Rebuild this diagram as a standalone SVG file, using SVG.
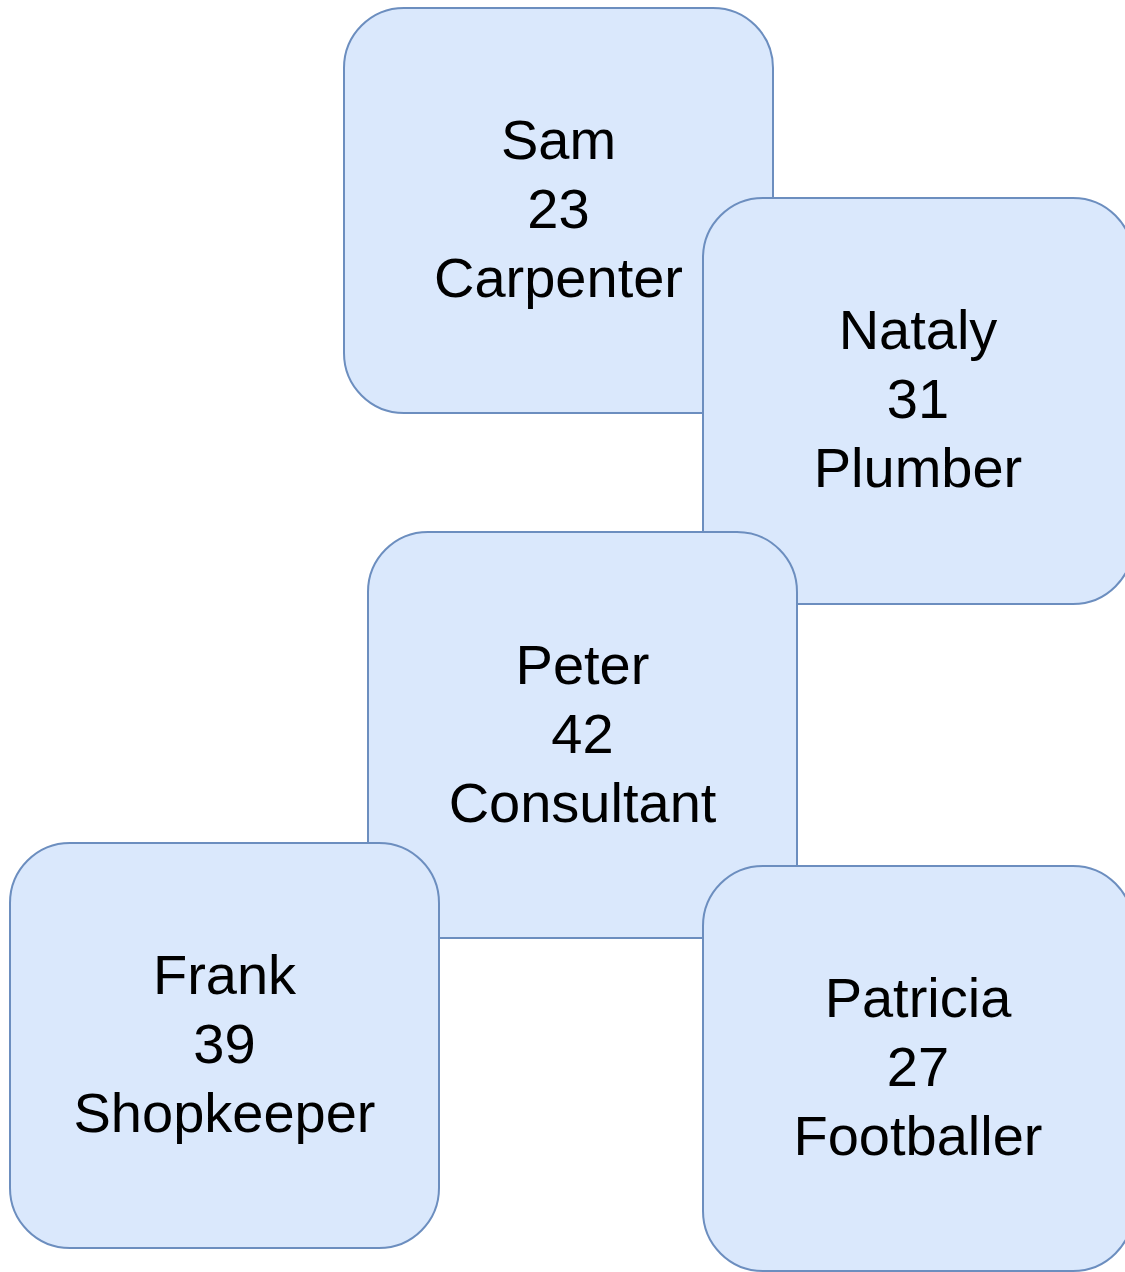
<svg xmlns="http://www.w3.org/2000/svg" width="1125" height="1272" viewBox="0 0 1125 1272">
<style>
.box{fill:#dae8fc;stroke:#6c8ebf;stroke-width:2}
.t{font-family:"Liberation Sans",Arial,sans-serif;font-size:56px;fill:#000;text-anchor:middle}
</style>
<rect width="1125" height="1272" fill="#ffffff"/>
<g id="connectors"/>
<g id="sam">
<rect class="box" x="344" y="8" width="429" height="405" rx="60" ry="60"/>
<text class="t" x="558.5" y="159">Sam</text>
<text class="t" x="558.5" y="228">23</text>
<text class="t" x="558.5" y="297">Carpenter</text>
</g>
<g id="nataly">
<rect class="box" x="703" y="198" width="430" height="406" rx="60" ry="60"/>
<text class="t" x="918" y="349">Nataly</text>
<text class="t" x="918" y="418">31</text>
<text class="t" x="918" y="487">Plumber</text>
</g>
<g id="peter">
<rect class="box" x="368" y="532" width="429" height="406" rx="60" ry="60"/>
<text class="t" x="582.5" y="684">Peter</text>
<text class="t" x="582.5" y="753">42</text>
<text class="t" x="582.5" y="822">Consultant</text>
</g>
<g id="frank">
<rect class="box" x="10" y="843" width="429" height="405" rx="60" ry="60"/>
<text class="t" x="224.5" y="994">Frank</text>
<text class="t" x="224.5" y="1063">39</text>
<text class="t" x="224.5" y="1132">Shopkeeper</text>
</g>
<g id="patricia">
<rect class="box" x="703" y="866" width="430" height="405" rx="60" ry="60"/>
<text class="t" x="918" y="1017">Patricia</text>
<text class="t" x="918" y="1086">27</text>
<text class="t" x="918" y="1155">Footballer</text>
</g>
</svg>
